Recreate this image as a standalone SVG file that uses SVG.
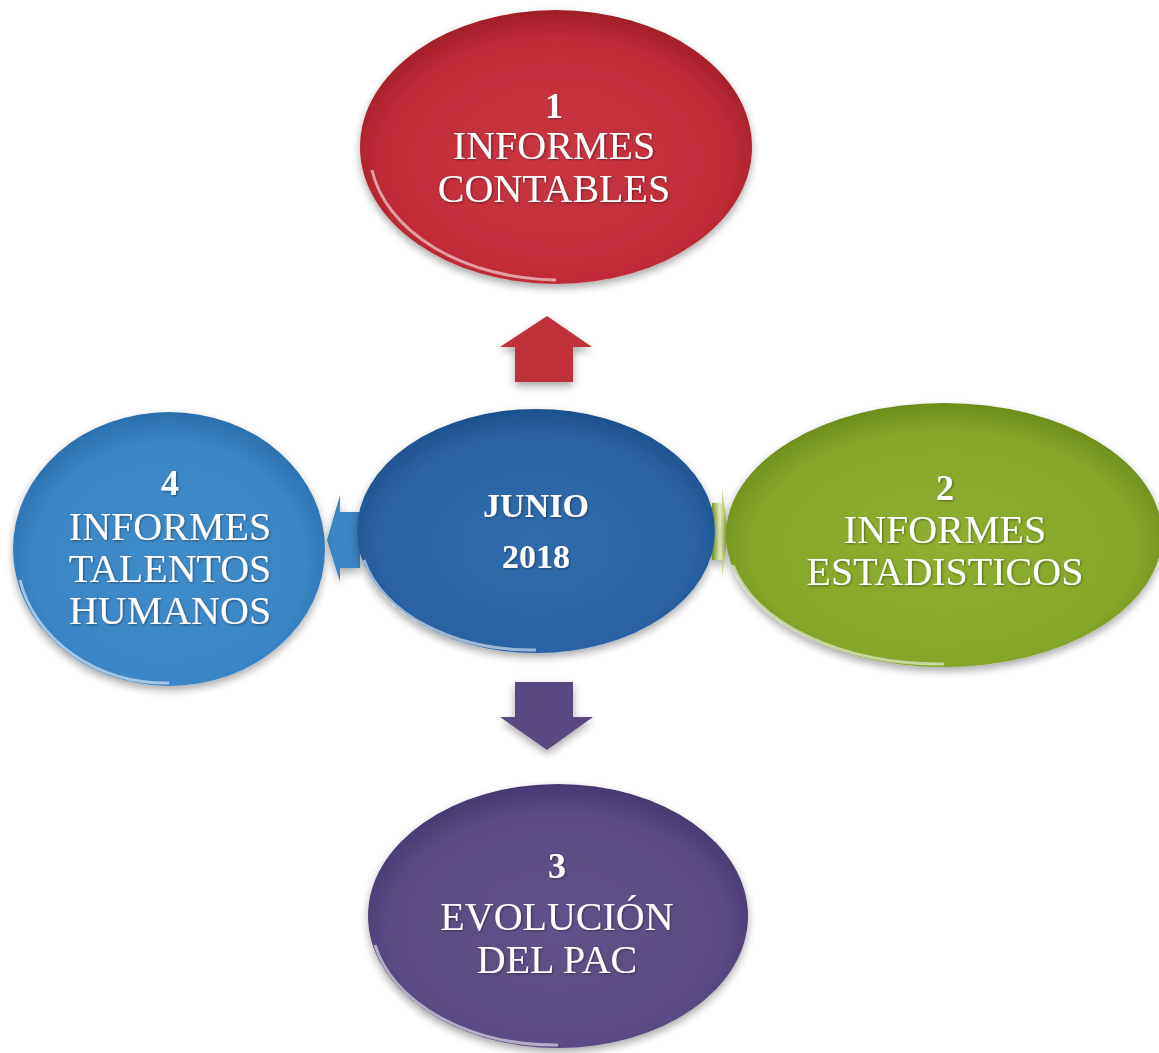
<svg xmlns="http://www.w3.org/2000/svg" width="1159" height="1053" viewBox="0 0 1159 1053">
<style>
.t{font-family:"Liberation Serif","Times New Roman",serif;fill:#ffffff;text-anchor:middle;font-size:40px}
.b{font-weight:bold;font-size:36px}
.hl{fill:none;stroke:#ffffff;stroke-opacity:0.55;stroke-width:3}
</style>
<defs>
<filter id="sh" x="-20%" y="-20%" width="140%" height="140%"><feGaussianBlur in="SourceAlpha" stdDeviation="4"/><feOffset dx="0" dy="4"/><feComponentTransfer><feFuncA type="linear" slope="0.35"/></feComponentTransfer><feMerge><feMergeNode/><feMergeNode in="SourceGraphic"/></feMerge></filter>
<filter id="ts"><feDropShadow dx="1" dy="1" stdDeviation="0.8" flood-color="#000" flood-opacity="0.4"/></filter>
<radialGradient id="gR" cx="50%" cy="55%" r="55%"><stop offset="0" stop-color="#c83640"/><stop offset="0.8" stop-color="#c02c38"/><stop offset="1" stop-color="#a01e2a"/></radialGradient>
<radialGradient id="gC" cx="50%" cy="55%" r="55%"><stop offset="0" stop-color="#2f6cad"/><stop offset="0.8" stop-color="#2a63a4"/><stop offset="1" stop-color="#1d4f8e"/></radialGradient>
<radialGradient id="gB" cx="50%" cy="55%" r="55%"><stop offset="0" stop-color="#3f8cca"/><stop offset="0.8" stop-color="#3a86c6"/><stop offset="1" stop-color="#2a6fae"/></radialGradient>
<radialGradient id="gG" cx="50%" cy="55%" r="55%"><stop offset="0" stop-color="#8fae30"/><stop offset="0.8" stop-color="#86a62a"/><stop offset="1" stop-color="#6c8c1c"/></radialGradient>
<radialGradient id="gP" cx="50%" cy="55%" r="55%"><stop offset="0" stop-color="#615189"/><stop offset="0.8" stop-color="#5b4b83"/><stop offset="1" stop-color="#463870"/></radialGradient>
<linearGradient id="aG" x1="0" y1="0" x2="1" y2="0"><stop offset="0" stop-color="#8aa82a"/><stop offset="0.5" stop-color="#e6efc0"/><stop offset="1" stop-color="#8aa82a"/></linearGradient>
</defs>
<rect width="1159" height="1053" fill="#ffffff"/>
<g id="connectors" filter="url(#sh)">
<polygon id="arrow-up" points="547,316 592,347 573,347 573,382 515,382 515,347 500,347" fill="#c0303a"/>
<polygon id="arrow-down" points="515,682 573,682 573,717 593,717 547,750 500,717 515,717" fill="#5a4a80"/>
<polygon id="arrow-left" points="327,540 340,495 340,512 360,512 360,568 340,568 340,582" fill="#3a86c4"/>
<polygon id="arrow-right" points="728,533 722,488 722,503 712,503 712,560 722,560 722,577" fill="url(#aG)"/>
</g>
<g id="node-1" filter="url(#sh)">
<ellipse cx="556" cy="147" rx="196" ry="137" fill="url(#gR)"/>
<path class="hl" d="M372,170 A190,130 0 0 0 556,280"/>
<g filter="url(#ts)">
<text class="t b" x="554" y="118">1</text>
<text class="t" x="554" y="159">INFORMES</text>
<text class="t" x="554" y="202">CONTABLES</text>
</g>
</g>
<g id="node-center" filter="url(#sh)">
<ellipse cx="536" cy="531" rx="179" ry="122" fill="url(#gC)"/>
<path class="hl" d="M364,560 A172,116 0 0 0 536,650"/>
<g filter="url(#ts)">
<text class="t b" x="536" y="517" style="font-size:34px">JUNIO</text>
<text class="t b" x="536" y="568" style="font-size:34px">2018</text>
</g>
</g>
<g id="node-4" filter="url(#sh)">
<ellipse cx="169" cy="549" rx="156" ry="137" fill="url(#gB)"/>
<path class="hl" d="M20,580 A150,130 0 0 0 169,683"/>
<g filter="url(#ts)">
<text class="t b" x="170" y="495">4</text>
<text class="t" x="170" y="540">INFORMES</text>
<text class="t" x="170" y="582">TALENTOS</text>
<text class="t" x="170" y="624">HUMANOS</text>
</g>
</g>
<g id="node-2" filter="url(#sh)">
<ellipse cx="944" cy="535" rx="218" ry="132" fill="url(#gG)"/>
<path class="hl" d="M733,565 A212,126 0 0 0 944,664"/>
<g filter="url(#ts)">
<text class="t b" x="945" y="500">2</text>
<text class="t" x="945" y="543">INFORMES</text>
<text class="t" x="945" y="585">ESTADISTICOS</text>
</g>
</g>
<g id="node-3" filter="url(#sh)">
<ellipse cx="558" cy="916" rx="190" ry="132" fill="url(#gP)"/>
<path class="hl" d="M375,945 A184,126 0 0 0 558,1045"/>
<g filter="url(#ts)">
<text class="t b" x="557" y="878">3</text>
<text class="t" x="557" y="930">EVOLUCIÓN</text>
<text class="t" x="557" y="973">DEL PAC</text>
</g>
</g>
</svg>
